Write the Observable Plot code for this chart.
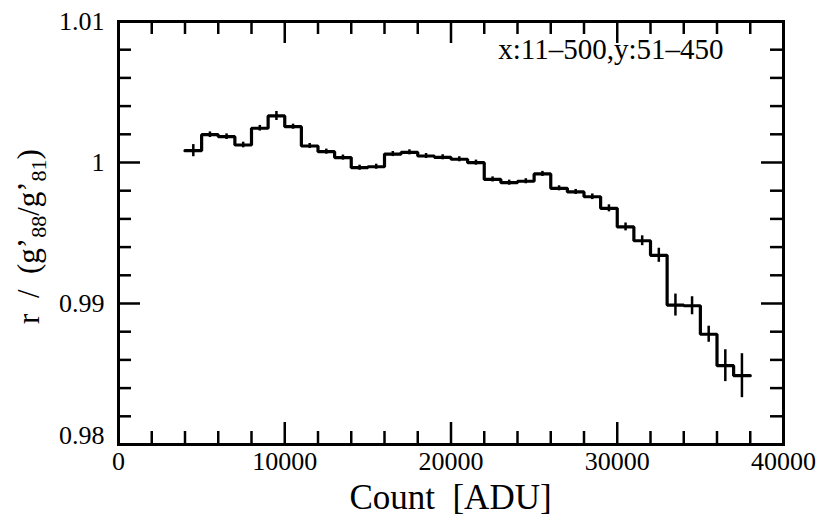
<!DOCTYPE html>
<html><head><meta charset="utf-8">
<script src="https://cdn.jsdelivr.net/npm/d3@7"></script>
<script src="https://cdn.jsdelivr.net/npm/@observablehq/plot@0.6"></script>
<style>body{margin:0;background:#fff}</style>
</head><body><div id="chart"></div>
<script>
// Bin centres (counts, ADU), ratio values and their errors
const binCenter = [4500,5500,6500,7500,8500,9500,10500,11500,12500,13500,14500,15500,16500,17500,18500,19500,20500,21500,22500,23500,24500,25500,26500,27500,28500,29500,30500,31500,32500,33500,34500,35500,36500,37500];
const ratio = [1.00084,1.00197,1.00183,1.00124,1.00243,1.00330,1.00254,1.00117,1.00077,1.00035,0.99963,0.99970,1.00060,1.00072,1.00046,1.00037,1.00023,0.99999,0.99880,0.99857,0.99867,0.99919,0.99817,0.99791,0.99757,0.99675,0.99543,0.99445,0.99342,0.98989,0.98984,0.98782,0.98559,0.98488];
const ratioErr = [0.00043,0.00020,0.00020,0.00020,0.00020,0.00032,0.00018,0.00018,0.00018,0.00018,0.00018,0.00018,0.00018,0.00018,0.00018,0.00018,0.00018,0.00018,0.00018,0.00018,0.00018,0.00018,0.00018,0.00018,0.00020,0.00025,0.00028,0.00035,0.00050,0.00078,0.00064,0.00057,0.00113,0.00156];
const binWidth = 1000;

const xMajorTicks = [0,10000,20000,30000,40000];
const xMinorTicks = [2000,4000,6000,8000,12000,14000,16000,18000,22000,24000,26000,28000,32000,34000,36000,38000];
const yMajorTicks = [0.98,0.99,1.00,1.01];
const yMinorTicks = [0.982,0.984,0.986,0.988,0.992,0.994,0.996,0.998,1.002,1.004,1.006,1.008];
const annotation = "x:11\u2013500,y:51\u2013450";
const xTitle = "Count\u00a0\u00a0[ADU]";

const bins = binCenter.map((c, i) => ({c, v: ratio[i], e: ratioErr[i]}));
const stepPts = bins.map(b => ({x: b.c - binWidth / 2, v: b.v}));
stepPts.push({x: bins[bins.length - 1].c + binWidth / 2, v: bins[bins.length - 1].v});

const W = 825, H = 521, mL = 118, mR = 42, mT = 21, mB = 77;
const innerH = H - mT - mB, innerW = W - mL - mR;
const majLen = 22, minLen = 13;

const plot = Plot.plot({
  width: W, height: H,
  marginLeft: mL, marginRight: mR, marginTop: mT, marginBottom: mB,
  style: {fontFamily: "'Liberation Serif', serif", background: "#fff", color: "#000"},
  x: {domain: [0, 40000]},
  y: {domain: [0.98, 1.01]},
  marks: [
    // ticks inward on all four sides
    Plot.tickX(xMajorTicks, {x: d => d, insetTop: innerH - majLen, stroke: "#000", strokeWidth: 2.5}),
    Plot.tickX(xMinorTicks, {x: d => d, insetTop: innerH - minLen, stroke: "#000", strokeWidth: 2.5}),
    Plot.tickX(xMajorTicks, {x: d => d, insetBottom: innerH - majLen, stroke: "#000", strokeWidth: 2.5}),
    Plot.tickX(xMinorTicks, {x: d => d, insetBottom: innerH - minLen, stroke: "#000", strokeWidth: 2.5}),
    Plot.tickY(yMajorTicks, {y: d => d, insetRight: innerW - majLen, stroke: "#000", strokeWidth: 2.5}),
    Plot.tickY(yMinorTicks, {y: d => d, insetRight: innerW - minLen, stroke: "#000", strokeWidth: 2.5}),
    Plot.tickY(yMajorTicks, {y: d => d, insetLeft: innerW - majLen, stroke: "#000", strokeWidth: 2.5}),
    Plot.tickY(yMinorTicks, {y: d => d, insetLeft: innerW - minLen, stroke: "#000", strokeWidth: 2.5}),
    Plot.axisX(xMajorTicks, {tickSize: 0, tickPadding: 7, fontSize: 26, tickFormat: d => String(d), label: null}),
    Plot.axisY(yMajorTicks.filter(d => d > 0.981), {tickSize: 0, tickPadding: 14, fontSize: 26, tickFormat: d => String(+d.toFixed(2)), label: null}),
    Plot.axisY(yMajorTicks.filter(d => d < 0.981), {tickSize: 0, tickPadding: 14, fontSize: 26, dy: -9, tickFormat: d => String(+d.toFixed(2)), label: null}),
    Plot.frame({stroke: "#000", strokeWidth: 3}),
    Plot.ruleX(bins, {x: "c", y1: d => d.v - d.e, y2: d => d.v + d.e, stroke: "#000", strokeWidth: 2.5}),
    Plot.line(stepPts, {x: "x", y: "v", curve: "step-after", stroke: "#000", strokeWidth: 3.2, strokeLinejoin: "miter"}),
    Plot.text([annotation], {frameAnchor: "top-right", dx: -60, dy: 28, textAnchor: "end", lineAnchor: "middle", fontSize: 29, fill: "#000"})
  ]
});

const svg = d3.select(plot);
// x-axis title
svg.append("text")
  .attr("x", mL + innerW / 2).attr("y", 509)
  .attr("text-anchor", "middle")
  .attr("font-size", 35).attr("fill", "#000")
  .text(xTitle);
// y-axis title with subscripts
const yt = svg.append("text")
  .attr("transform", `translate(38.5,${mT + innerH / 2 + 4}) rotate(-90)`)
  .attr("text-anchor", "middle")
  .attr("font-size", 31).attr("fill", "#000");
yt.append("tspan").text("r\u00a0\u00a0/\u00a0\u00a0(g\u2019");
yt.append("tspan").attr("font-size", 22).attr("dy", 7).text("88");
yt.append("tspan").attr("dy", -7).text("/g\u2019");
yt.append("tspan").attr("font-size", 22).attr("dy", 7).text("81");
yt.append("tspan").attr("dy", -7).text(")");

document.getElementById("chart").appendChild(plot);
</script>
</body></html>
